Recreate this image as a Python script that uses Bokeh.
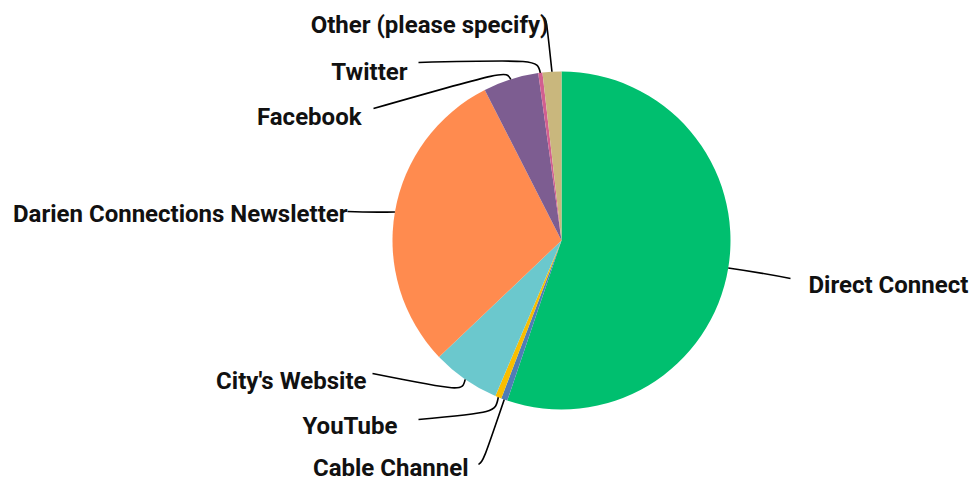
import numpy as np
from bokeh.plotting import figure
from bokeh.models import Range1d, ColumnDataSource
from bokeh.core.properties import value
from bokeh.embed import file_html
from bokeh.resources import INLINE

# ---- data ----
categories = ["Direct Connect", "Cable Channel", "YouTube", "City's Website",
              "Darien Connections Newsletter", "Facebook", "Twitter",
              "Other (please specify)"]
values = [55.2, 0.6, 0.6, 6.5, 29.6, 5.3, 0.4, 1.8]
colors = ["#00BF6F", "#507CB6", "#F9BE00", "#6BC8CD", "#FF8B4F",
          "#7D5D91", "#D25F90", "#C9B77D"]

# ---- layout (page pixels) ----
CX, CY, R = 561, 240, 169
label_xy = [(808, 284), (468, 467), (397, 425), (366, 380), (347, 213),
            (361, 116), (407, 71), (548, 24)]
label_align = ["left", "right", "right", "right", "right", "right", "right", "right"]
line_start = [(790, 278), (478, 464), (418, 419), (372, 373), (347, 211),
              (373, 108), (418, 62), (543, 17)]
elbow = [(759, 272), (483, 460), (495, 412), (462, 391), (370, 212),
         (506, 70), (537, 59), (546, 19)]

vals = np.array(values, dtype=float)
frac = vals / vals.sum()
t_end = np.cumsum(frac) * 2 * np.pi
t_start = t_end - frac * 2 * np.pi
t_mid = (t_start + t_end) / 2

W, H = 974, 481
p = figure(width=W, height=H, output_backend="svg", toolbar_location=None,
           x_range=Range1d(0, W), y_range=Range1d(-H, 0), min_border=0)
p.axis.visible = False
p.grid.visible = False
p.outline_line_color = None

src = ColumnDataSource(dict(
    start=np.pi / 2 - t_end, end=np.pi / 2 - t_start, color=colors, cat=categories))
p.wedge(x=CX, y=-CY, radius=R, start_angle="start", end_angle="end",
        direction="anticlock", fill_color="color", line_color=None, source=src)

ax = CX + R * np.sin(t_mid)
ay = -(CY - R * np.cos(t_mid))
p.bezier(x0=[s[0] for s in line_start], y0=[-s[1] for s in line_start],
         x1=list(ax), y1=list(ay),
         cx0=[e[0] for e in elbow], cy0=[-e[1] for e in elbow],
         cx1=[e[0] for e in elbow], cy1=[-e[1] for e in elbow],
         line_color="black", line_width=1.6)

for align in ["left", "right"]:
    idx = [i for i, a in enumerate(label_align) if a == align]
    p.text(x=[label_xy[i][0] for i in idx], y=[-label_xy[i][1] for i in idx],
           text=[categories[i] for i in idx], text_align=align,
           text_baseline="middle", text_font=value("Roboto"),
           text_font_style="bold", text_font_size="24px", text_color="#111111")

open("out.html", "w").write(file_html(p, INLINE))
